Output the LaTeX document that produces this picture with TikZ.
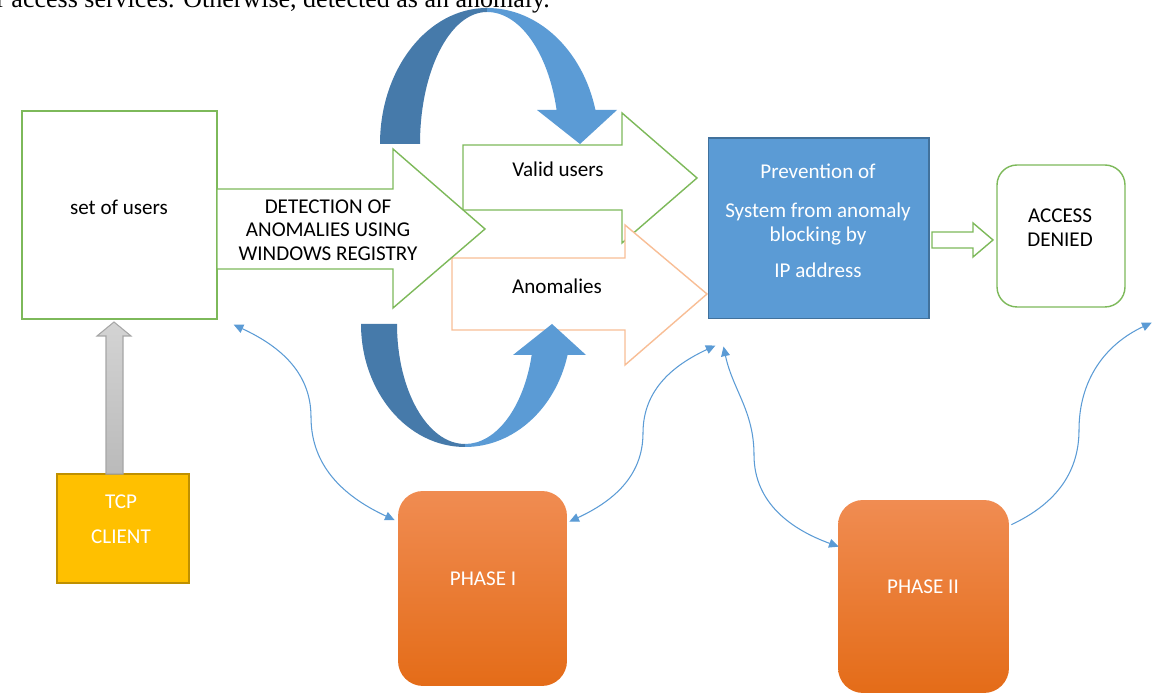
\documentclass[tikz,border=0pt]{standalone}
\usepackage{fontspec}
\setmainfont{Carlito}
\newfontfamily\bodyserif{Liberation Serif}
\definecolor{greenline}{RGB}{125,185,90}
\definecolor{peachline}{RGB}{248,190,150}
\definecolor{bluefill}{RGB}{91,155,213}
\definecolor{blueedge}{RGB}{65,113,156}
\definecolor{arcdark}{RGB}{70,122,170}
\definecolor{arclight}{RGB}{91,155,213}
\definecolor{tcpfill}{RGB}{255,192,0}
\definecolor{tcpedge}{RGB}{191,144,0}
\definecolor{phasetop}{RGB}{240,140,82}
\definecolor{phasebot}{RGB}{228,108,24}
\definecolor{linkblue}{RGB}{91,155,213}
\usetikzlibrary{arrows.meta}

\begin{document}
\begin{tikzpicture}[x=0.02cm,y=0.02cm,
        box/.style={draw=greenline,line width=0.8pt,fill=white,inner sep=0pt},
        lbl/.style={font=\fontsize{12}{13.5}\selectfont,align=center,inner sep=0pt},
        wlbl/.style={lbl,text=white},
        phase/.style={rounded corners=0.5cm,top color=phasetop,bottom color=phasebot,
                      draw=none,inner sep=0pt,minimum width=3.38cm,minimum height=3.9cm},
        garrow/.style={draw=greenline,line width=0.8pt,fill=white},
        parrow/.style={draw=peachline,line width=0.8pt,fill=white},
        link/.style={{Triangle[length=5.5pt,width=5pt]}-{Triangle[length=5.5pt,width=5pt]},
                     draw=linkblue,line width=0.6pt},
        linkone/.style={-{Triangle[length=5.5pt,width=5pt]},draw=linkblue,line width=0.6pt}]
        \useasboundingbox (0,0) rectangle (1152,695);
        \clip (0,0) rectangle (1152,695);
        % cut-off line of text at the top
        \node[anchor=base west,inner sep=0pt,font=\bodyserif\fontsize{14.8}{17}\selectfont]
          (caption) at (-4,687) {r access services. Otherwise, detected as an anomaly.};
        % boxes
        \node[box,minimum width=3.9cm,minimum height=4.16cm] (users) at (119.5,480) {};
        \node[draw=blueedge,fill=bluefill,line width=0.6pt,inner sep=0pt,
              minimum width=4.42cm,minimum height=3.62cm] (prevent) at (818.5,466.5) {};
        \node[box,rounded corners=0.4cm,minimum width=2.56cm,minimum height=2.84cm] (denied) at (1061,459) {};
        \node[draw=tcpedge,fill=tcpfill,line width=0.8pt,inner sep=0pt,
              minimum width=2.64cm,minimum height=2.18cm] (tcp) at (123,166.5) {};
        \node[phase] (phaseI) at (482.5,106.5) {};
        \node[phase,minimum width=3.42cm,minimum height=3.86cm] (phaseII) at (923.5,98.5) {};
        % block arrows
        \draw[garrow] (463,550) -- (622,550) -- (622,582) -- (697,517) -- (622,452) -- (622,485) -- (463,485) -- cycle;
        \draw[parrow] (452,437) -- (625,437) -- (625,470) -- (707,401) -- (625,330) -- (625,365) -- (452,365) -- cycle;
        \draw[garrow] (217,506) -- (393,506) -- (393,546) -- (485,466) -- (393,387) -- (393,426) -- (217,426) -- cycle;
        \draw[garrow] (932,463) -- (973,463) -- (973,472) -- (993,455) -- (973,438) -- (973,447) -- (932,447) -- cycle;
        \draw[draw=black!35,top color=black!17,bottom color=black!27,line width=0.6pt]
          (106,221) -- (106,359) -- (97,359) -- (114,373) -- (131,359) -- (123,359) -- (123,221) -- cycle;
        % curved block arrows
        \fill[arcdark] (380,551) arc[start angle=180,end angle=90,x radius=107,y radius=136]
          -- (487,683) arc[start angle=90,end angle=180,x radius=67,y radius=132] -- cycle;
        \fill[arclight] (487,687) arc[start angle=90,end angle=14.48,x radius=112,y radius=136]
          -- (617,585) -- (580,551) -- (537,585) -- (556.6,585)
          arc[start angle=14.93,end angle=90,x radius=72,y radius=132] -- cycle;
        \fill[arcdark] (361,371) arc[start angle=180,end angle=270,x radius=104,y radius=123]
          -- (465,251) arc[start angle=270,end angle=180,x radius=68,y radius=120] -- cycle;
        \fill[arclight] (465,248) arc[start angle=270,end angle=345.4,x radius=106,y radius=123]
          -- (586,340) -- (552,371) -- (513,340) -- (531.7,340)
          arc[start angle=345.03,end angle=270,x radius=69,y radius=120] -- cycle;
        % texts
        \node[lbl] (userstxt) at (119,488) {set of users};
        \node[lbl] (detecttxt) at (328,465) {DETECTION OF\\ANOMALIES USING\\WINDOWS REGISTRY};
        \node[lbl] (validtxt) at (558,526) {Valid users};
        \node[lbl] (anomtxt) at (557,409) {Anomalies};
        \node[wlbl] (preventtxt) at (818,474) {Prevention of\\[8.7pt]System from anomaly\\blocking by\\[7pt]IP address};
        \node[lbl] (deniedtxt) at (1060,467) {ACCESS\\DENIED};
        \node[wlbl] (tcptxt) at (121,175.5) {TCP\\[6.5pt]CLIENT};
        \node[wlbl] (phaseItxt) at (483,116) {PHASE I};
        \node[wlbl] (phaseIItxt) at (923,108) {PHASE II};
        % thin links
        \draw[link] ([shift={(16,-5)}]users.south east) to[out=-25,in=90] (311,278)
          to[out=-90,in=155] ([shift={(-3,-29.5)}]phaseI.north west);
        \draw[link] ([shift={(2,-31)}]phaseI.north east) to[out=25,in=-90] (643,262)
          to[out=90,in=205] ([shift={(8,-26)}]prevent.south west);
        \draw[link] ([shift={(16,-27)}]prevent.south west) to[out=-78,in=90] (754,240)
          to[out=-90,in=160] ([shift={(1,-47)}]phaseII.north west);
        \coordinate (edge) at ([shift={(26,-15)}]denied.south east);
        \draw[linkone] ([shift={(2,-25)}]phaseII.north east) to[out=25,in=-90] (1079,265)
          to[out=90,in=205] (edge);
      \end{tikzpicture}
\end{document}
